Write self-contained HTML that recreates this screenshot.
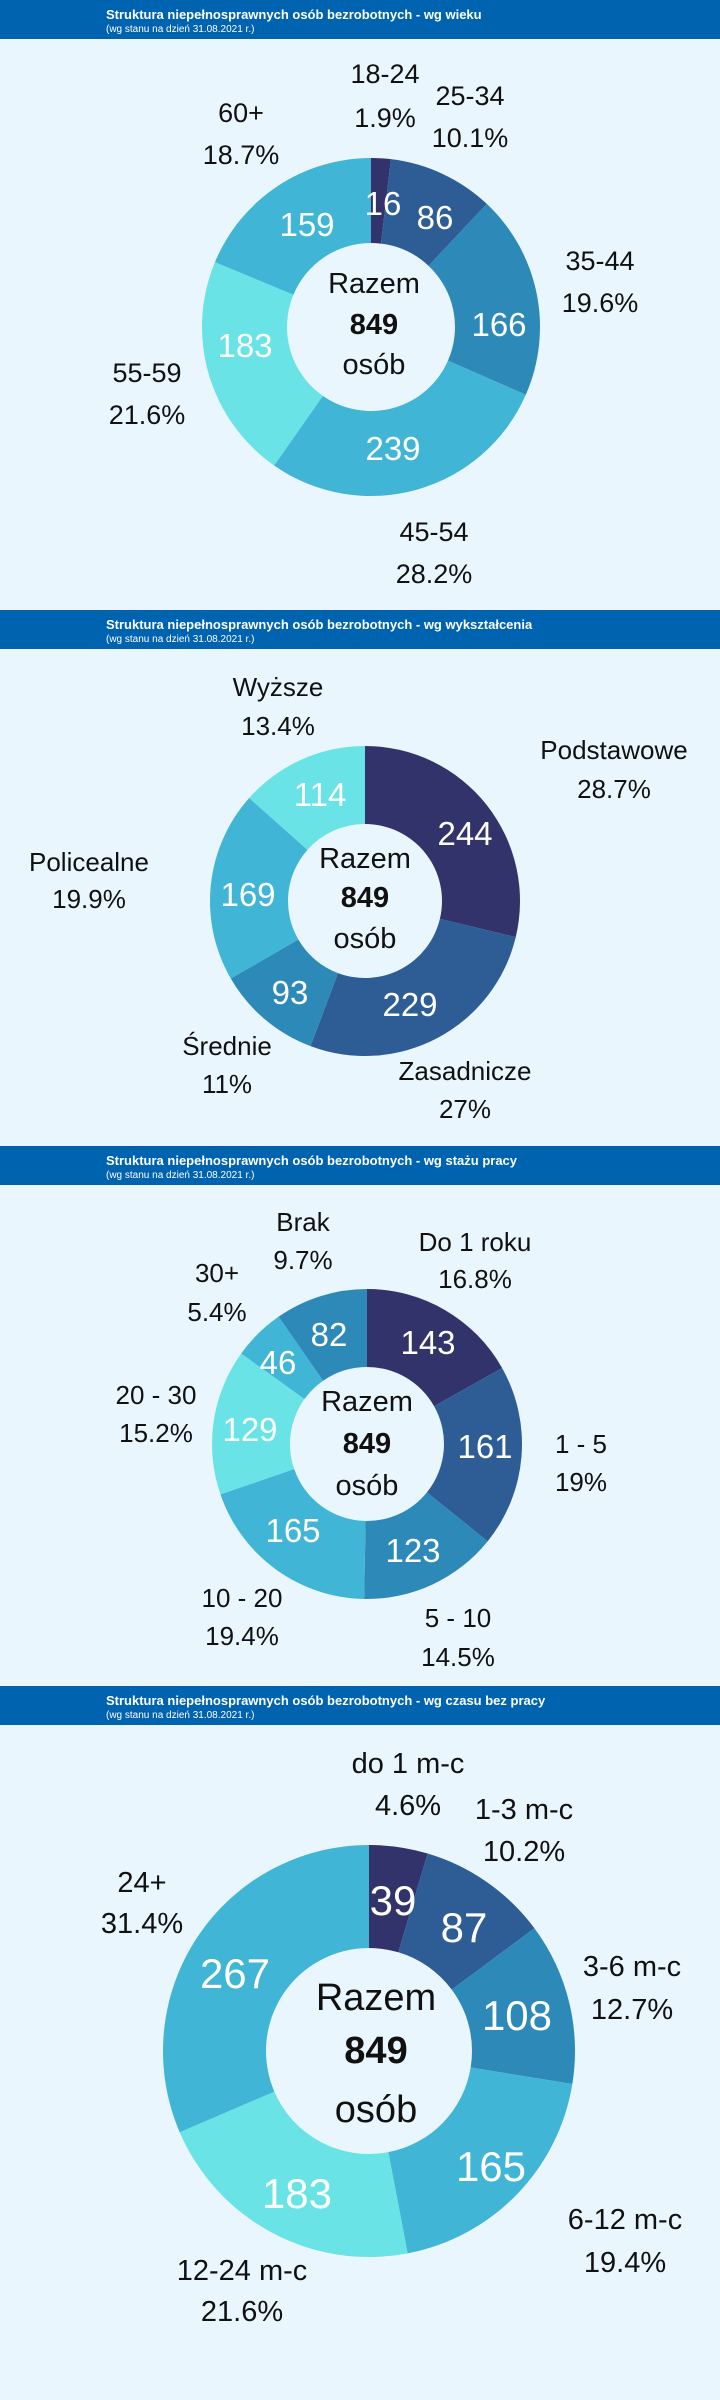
<!DOCTYPE html>
<html><head><meta charset="utf-8">
<style>
html,body{margin:0;padding:0;background:#eaf6fd;}
svg{display:block}
text{font-family:"Liberation Sans",sans-serif}
.h1{font-weight:bold;font-size:13px;fill:#fff}
.h2{font-size:10px;fill:#fff}
.l{font-size:27px;fill:#111;text-anchor:middle}
.ls{font-size:26px;fill:#111;text-anchor:middle}
.v{font-size:33px;fill:#fff;text-anchor:middle}
.c{font-size:29px;fill:#111;text-anchor:middle}
.b{font-weight:bold}
.l4{font-size:29px;fill:#111;text-anchor:middle}
.v4{font-size:42px;fill:#fff;text-anchor:middle}
.c4{font-size:38px;fill:#111;text-anchor:middle}
</style></head><body>
<svg id="s" width="720" height="2400" viewBox="0 0 720 2400" xmlns="http://www.w3.org/2000/svg">
<rect width="720" height="2400" fill="#eaf6fd"/>
<rect x="0" y="0" width="720" height="39" fill="#0063b0"/>
<text class="h1" x="106" y="19">Struktura niepełnosprawnych osób bezrobotnych - wg wieku</text>
<text class="h2" x="106" y="32">(wg stanu na dzień 31.08.2021 r.)</text>
<rect x="0" y="610" width="720" height="39" fill="#0063b0"/>
<text class="h1" x="106" y="629">Struktura niepełnosprawnych osób bezrobotnych - wg wykształcenia</text>
<text class="h2" x="106" y="642">(wg stanu na dzień 31.08.2021 r.)</text>
<rect x="0" y="1146" width="720" height="39" fill="#0063b0"/>
<text class="h1" x="106" y="1165">Struktura niepełnosprawnych osób bezrobotnych - wg stażu pracy</text>
<text class="h2" x="106" y="1178">(wg stanu na dzień 31.08.2021 r.)</text>
<rect x="0" y="1686" width="720" height="39" fill="#0063b0"/>
<text class="h1" x="106" y="1705">Struktura niepełnosprawnych osób bezrobotnych - wg czasu bez pracy</text>
<text class="h2" x="106" y="1718">(wg stanu na dzień 31.08.2021 r.)</text>
<g id="donuts"></g>
<g id="txt">
<!-- S1 -->
<text class="l" x="385" y="83">18-24</text><text class="l" x="385" y="127">1.9%</text>
<text class="l" x="470" y="105">25-34</text><text class="l" x="470" y="147">10.1%</text>
<text class="l" x="241" y="122">60+</text><text class="l" x="241" y="164">18.7%</text>
<text class="l" x="600" y="270">35-44</text><text class="l" x="600" y="312">19.6%</text>
<text class="l" x="147" y="382">55-59</text><text class="l" x="147" y="424">21.6%</text>
<text class="l" x="434" y="541">45-54</text><text class="l" x="434" y="583">28.2%</text>
<text class="v" x="383" y="215">16</text><text class="v" x="435" y="229">86</text>
<text class="v" x="499" y="336">166</text><text class="v" x="393" y="460">239</text>
<text class="v" x="245" y="357">183</text><text class="v" x="307" y="236">159</text>
<text class="c" x="374" y="293">Razem</text><text class="c b" x="374" y="334">849</text><text class="c" x="374" y="374">osób</text>
<!-- S2 -->
<text class="ls" x="278" y="696">Wyższe</text><text class="ls" x="278" y="735">13.4%</text>
<text class="ls" x="614" y="759">Podstawowe</text><text class="ls" x="614" y="798">28.7%</text>
<text class="ls" x="89" y="871">Policealne</text><text class="ls" x="89" y="908">19.9%</text>
<text class="ls" x="227" y="1055">Średnie</text><text class="ls" x="227" y="1093">11%</text>
<text class="ls" x="465" y="1080">Zasadnicze</text><text class="ls" x="465" y="1118">27%</text>
<text class="v" x="465" y="845">244</text><text class="v" x="410" y="1016">229</text>
<text class="v" x="290" y="1004">93</text><text class="v" x="248" y="906">169</text>
<text class="v" x="320" y="806">114</text>
<text class="c" x="365" y="868">Razem</text><text class="c b" x="365" y="907">849</text><text class="c" x="365" y="948">osób</text>
<!-- S3 -->
<text class="ls" x="303" y="1231">Brak</text><text class="ls" x="303" y="1269">9.7%</text>
<text class="ls" x="475" y="1251">Do 1 roku</text><text class="ls" x="475" y="1288">16.8%</text>
<text class="ls" x="217" y="1282">30+</text><text class="ls" x="217" y="1321">5.4%</text>
<text class="ls" x="156" y="1404">20 - 30</text><text class="ls" x="156" y="1442">15.2%</text>
<text class="ls" x="581" y="1453">1 - 5</text><text class="ls" x="581" y="1491">19%</text>
<text class="ls" x="242" y="1607">10 - 20</text><text class="ls" x="242" y="1645">19.4%</text>
<text class="ls" x="458" y="1627">5 - 10</text><text class="ls" x="458" y="1666">14.5%</text>
<text class="v" x="428" y="1354">143</text><text class="v" x="485" y="1458">161</text>
<text class="v" x="413" y="1562">123</text><text class="v" x="293" y="1542">165</text>
<text class="v" x="250" y="1441">129</text><text class="v" x="278" y="1374">46</text>
<text class="v" x="329" y="1346">82</text>
<text class="c" x="367" y="1411">Razem</text><text class="c b" x="367" y="1453">849</text><text class="c" x="367" y="1495">osób</text>
<!-- S4 -->
<text class="l4" x="408" y="1773">do 1 m-c</text><text class="l4" x="408" y="1815">4.6%</text>
<text class="l4" x="524" y="1819">1-3 m-c</text><text class="l4" x="524" y="1861">10.2%</text>
<text class="l4" x="142" y="1892">24+</text><text class="l4" x="142" y="1933">31.4%</text>
<text class="l4" x="632" y="1976">3-6 m-c</text><text class="l4" x="632" y="2019">12.7%</text>
<text class="l4" x="625" y="2229">6-12 m-c</text><text class="l4" x="625" y="2272">19.4%</text>
<text class="l4" x="242" y="2280">12-24 m-c</text><text class="l4" x="242" y="2321">21.6%</text>
<text class="v4" x="393" y="1915">39</text><text class="v4" x="464" y="1942">87</text>
<text class="v4" x="517" y="2030">108</text><text class="v4" x="491" y="2181">165</text>
<text class="v4" x="297" y="2208">183</text><text class="v4" x="235" y="1988">267</text>
<text class="c4" x="376" y="2010">Razem</text><text class="c4 b" x="376" y="2063">849</text><text class="c4" x="376" y="2122">osób</text>
</g>
</svg>
<script>
var N="#31336a",B="#2e5d96",M="#2d8ab8",L="#40b5d5",T="#6ae3e6";
var charts=[
 {cx:371,cy:327,rx:169,ry:169,irx:84,iry:84,v:[16,86,166,239,183,159],c:[N,B,M,L,T,L]},
 {cx:365,cy:901,rx:155,ry:155,irx:77,iry:77,v:[244,229,93,169,114],c:[N,B,M,L,T]},
 {cx:367,cy:1444,rx:155,ry:155,irx:77,iry:77,v:[143,161,123,165,129,46,82],c:[N,B,M,L,T,L,M]},
 {cx:369,cy:2051,rx:206,ry:206,irx:103,iry:103,v:[39,87,108,165,183,267],c:[N,B,M,L,T,L]}
];
var g=document.getElementById("donuts"),h="";
function p(cx,cy,rx,ry,a){return (cx+rx*Math.sin(a)).toFixed(2)+" "+(cy-ry*Math.cos(a)).toFixed(2);}
charts.forEach(function(ch){
 var tot=ch.v.reduce(function(a,b){return a+b},0),a0=0;
 ch.v.forEach(function(v,i){
  var a1=a0+v/tot*2*Math.PI,lg=(a1-a0)>Math.PI?1:0;
  h+='<path fill="'+ch.c[i]+'" d="M'+p(ch.cx,ch.cy,ch.rx,ch.ry,a0)+' A'+ch.rx+' '+ch.ry+' 0 '+lg+' 1 '+p(ch.cx,ch.cy,ch.rx,ch.ry,a1)+
  ' L'+p(ch.cx,ch.cy,ch.irx,ch.iry,a1)+' A'+ch.irx+' '+ch.iry+' 0 '+lg+' 0 '+p(ch.cx,ch.cy,ch.irx,ch.iry,a0)+' Z"/>';
  a0=a1;
 });
});
g.innerHTML=h;
</script>
</body></html>
